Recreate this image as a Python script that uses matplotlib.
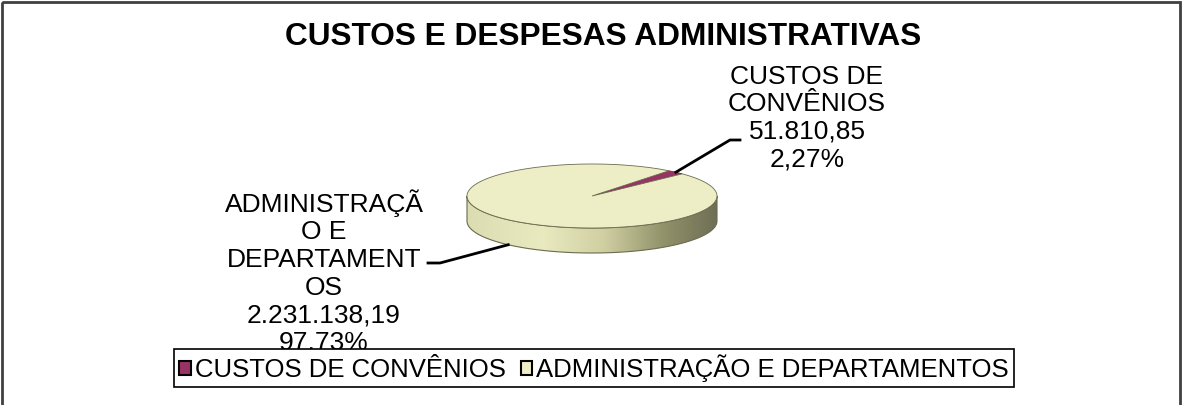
import numpy as np
import matplotlib.pyplot as plt
from matplotlib.patches import Polygon, Rectangle, Patch
from matplotlib.colors import LinearSegmentedColormap

plt.rcParams['font.family'] = ['Liberation Sans', 'DejaVu Sans']

# dados
categorias = ['CUSTOS DE CONVÊNIOS', 'ADMINISTRAÇÃO E DEPARTAMENTOS']
valores = [51810.85, 2231138.19]
rotulos = ['CUSTOS DE\nCONVÊNIOS\n51.810,85\n2,27%',
           'ADMINISTRAÇÃ\nO E\nDEPARTAMENT\nOS\n2.231.138,19\n97,73%']
cores = ['#993366', '#EEEEC6']
titulo = 'CUSTOS E DESPESAS ADMINISTRATIVAS'

fig = plt.figure(figsize=(11.82, 4.05), dpi=100)
ax = fig.add_axes([0, 0, 1, 1])

# geometria da pizza 3D (em pixels)
cx, cy, a, b, prof = 592, 196, 125, 32, 25
inicio = 52
borda = '#6b6b4f'


def ponto(ang, dy=0):
    r = np.radians(ang)
    return cx + a * np.cos(r), cy - b * np.sin(r) + dy


fr = np.array(valores) / sum(valores)
limites = inicio - 360 * np.concatenate([[0], np.cumsum(fr)])

# lateral (frente da pizza)
t = np.linspace(180, 360, 200)
topo = np.array([ponto(x) for x in t])
base = np.array([ponto(x, prof) for x in t[::-1]])
lado = Polygon(np.vstack([topo, base]), closed=True, facecolor='none',
               edgecolor=borda, lw=0.8, zorder=2)
ax.add_patch(lado)
cmap = LinearSegmentedColormap.from_list(
    'lado', [(0, '#dcdcb2'), (0.3, '#eaeac0'), (0.55, '#cfcfa2'),
             (0.8, '#8f8f68'), (1, '#6f6f56')])
grad = np.linspace(0, 1, 256).reshape(1, -1)
im = ax.imshow(grad, cmap=cmap, extent=(cx - a, cx + a, cy + b + prof, cy - b),
               aspect='auto', zorder=1)
im.set_clip_path(lado)

# fatias (topo)
for i, v in enumerate(valores):
    tt = np.linspace(limites[i], limites[i + 1], 300)
    pts = [(cx, cy)] + [ponto(x) for x in tt]
    ec = borda if i == 1 else '#7a2850'
    ax.add_patch(Polygon(pts, closed=True, facecolor=cores[i], edgecolor=ec,
                         lw=0.6, zorder=3))

# rotulos com linhas de chamada
m0 = (limites[0] + limites[1]) / 2
p0 = ponto(m0)
ax.plot([p0[0], 730, 740], [p0[1], 140, 140], color='black', lw=2, zorder=4)
ax.text(807, 118, rotulos[0], ha='center', va='center', fontsize=19,
        linespacing=1.19)

m1 = (limites[1] + limites[2]) / 2
p1 = ponto(m1, prof)
ax.plot([p1[0], 440, 428], [p1[1], 263, 263], color='black', lw=2, zorder=4)
ax.text(324, 272, rotulos[1], ha='center', va='center', fontsize=19,
        linespacing=1.19)

ax.text(603, 37, titulo, ha='center', va='center', fontsize=22.8,
        fontweight='bold')

# moldura
ax.add_patch(Rectangle((2, 2), 1178, 430, fill=False, edgecolor='#404040',
                       lw=2, zorder=0))

ax.set_xlim(0, 1182)
ax.set_ylim(405, 0)
ax.axis('off')

handles = [Patch(facecolor=c, edgecolor='black', lw=1.5) for c in cores]
leg = fig.legend(handles, categorias, loc='center',
                 bbox_to_anchor=(594 / 1182, 1 - 368 / 405), ncol=2,
                 fontsize=18.5, frameon=True, fancybox=False, edgecolor='black',
                 handlelength=0.45, handleheight=0.45, handletextpad=0.15,
                 columnspacing=0.6, borderpad=0.2, borderaxespad=0)
leg.get_frame().set_linewidth(1.2)
leg.get_frame().set_alpha(1)

fig.savefig('out.png', dpi=100)
